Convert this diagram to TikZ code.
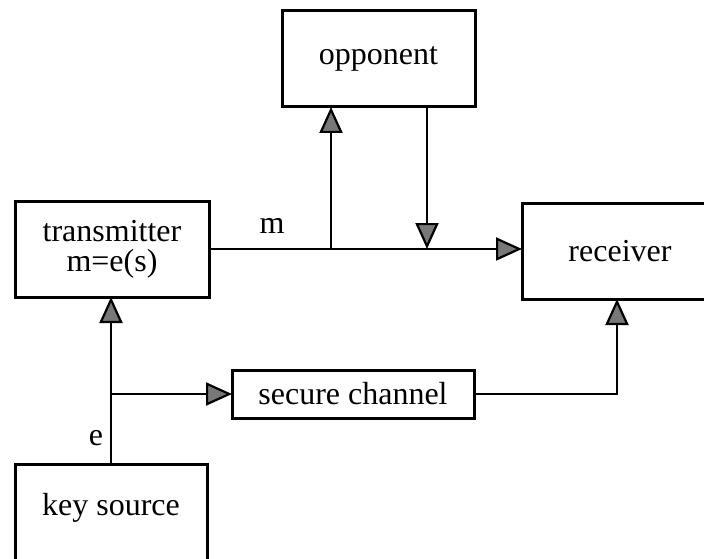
\documentclass[tikz,border=0pt]{standalone}
\usepackage{fontspec}
\setmainfont{Liberation Serif}
\usetikzlibrary{arrows.meta}
\definecolor{headgray}{RGB}{120,120,120}
\begin{document}
\begin{tikzpicture}[x=1pt,y=-1pt,
  box/.style={draw,line width=3pt,inner sep=0pt,outer sep=0pt,font=\fontsize{32}{30}\selectfont,align=center},
  lbl/.style={font=\fontsize{32}{30}\selectfont,inner sep=0pt},
  conn/.style={line width=2.8pt,-{Triangle[length=26pt,width=23pt,fill=headgray,line width=2.2pt]}}]
\useasboundingbox (0,0) rectangle (704,559);
\node[box,minimum width=193pt,minimum height=96pt] (opp) at (378.5,59) {opponent};
\node[box,minimum width=194pt,minimum height=96pt] (tx) at (112,249) {transmitter\\m=e(s)};
\node[box,minimum width=196pt,minimum height=96pt] (rx) at (620,251) {receiver};
\node[box,minimum width=242pt,minimum height=48pt] (sc) at (353,394) {secure channel};
\node[box,minimum width=192pt,minimum height=120pt] (ks) at (111,524) {};
\node[lbl] (kslabel) at (111,508) {key source};
\node[lbl] (mlabel) at (272,226) {m};
\node[lbl] (elabel) at (96,438) {e};
\coordinate (upfoot) at (331,249);
\coordinate (downtop) at (427,107);
\coordinate (rxin) at (617,299);
\draw[conn] (tx.east) -- (tx.east -| rx.west);
\draw[conn] (upfoot) -- (upfoot |- opp.south);
\draw[conn] (downtop |- opp.south) -- (downtop |- tx.east);
\draw[conn] (ks.north) -- (ks.north |- tx.south);
\draw[conn] (ks.north |- sc.west) -- (sc.west);
\draw[conn] (sc.east) -| (rxin);
\end{tikzpicture}
\end{document}
